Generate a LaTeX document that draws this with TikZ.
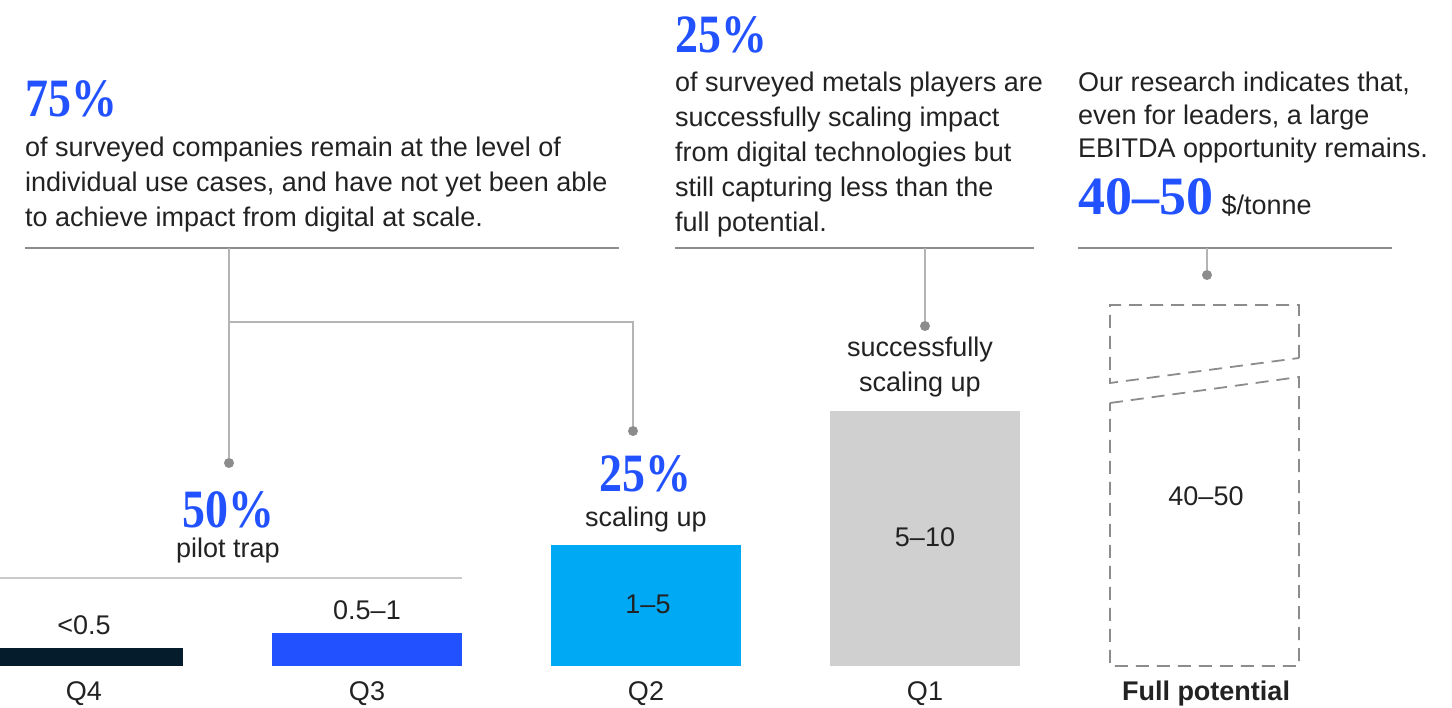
\documentclass[tikz,border=0pt]{standalone}
\usepackage{fontspec}
\usepackage{graphicx}
\setmainfont{Liberation Sans}
\newfontfamily\headfont[Ligatures=TeX]{Liberation Serif}

\definecolor{mckblue}{HTML}{2251FF}
\definecolor{mckcyan}{HTML}{00A9F4}
\definecolor{mcknavy}{HTML}{051C2C}
\definecolor{bargray}{HTML}{D0D0D0}
\definecolor{rulegray}{HTML}{8C8C8C}
\definecolor{linkgray}{HTML}{B4B4B4}
\definecolor{inkgray}{HTML}{222222}

\newcommand{\narrowed}[1]{\scalebox{0.85}[1]{#1}}

\tikzset{
  body/.style={inner sep=0pt, text=inkgray, font=\fontsize{27}{35}\selectfont},
  bignum/.style={inner sep=0pt, text=mckblue, font=\headfont\bfseries\fontsize{54}{54}\selectfont},
  bar/.style={inner sep=0pt, minimum width=190pt, anchor=south west},
  rule/.style={rulegray, line width=1.3pt},
  link/.style={linkgray, line width=1.6pt},
  pindot/.style={circle, fill=rulegray, inner sep=0pt, minimum size=10pt},
  potential/.style={rulegray, line width=1.8pt, dash pattern=on 13pt off 8pt},
}

\begin{document}
\begin{tikzpicture}[x=1pt,y=-1pt]
\useasboundingbox (0,0) rectangle (1452,708);
% Headline blocks above the rules
\node[bignum, anchor=base west] (lnum) at (25,117) {\narrowed{75\%}};
\node[body, anchor=base west, align=left] (ltext) at (25,227)
  {of surveyed companies remain at the level of\\individual use cases, and have not yet been able\\to achieve impact from digital at scale.};
\node[bignum, anchor=base west] (mnum) at (675,53) {\narrowed{25\%}};
\node[body, anchor=base west, align=left] (mtext) at (675,232)
  {of surveyed metals players are\\successfully scaling impact\\from digital technologies but\\still capturing less than the\\full potential.};
\node[body, anchor=base west, align=left, font=\fontsize{27}{33}\selectfont] (rtext) at (1078,158)
  {Our research indicates that,\\even for leaders, a large\\EBITDA opportunity remains.};
\node[bignum, anchor=base west] (rnum) at (1078,215) {40\textendash 50};
\node[body, anchor=base west] (runit) at ([xshift=8pt]rnum.base east) {\$/tonne};
% Rules
\draw[rule] (25,248) -- (619,248);
\draw[rule] (675,248) -- (1034,248);
\draw[rule] (1078,248) -- (1392,248);
\draw[linkgray!70, line width=1.3pt] (0,578) -- (462,578);
% Bars
\node[bar, fill=mcknavy, minimum width=183pt, minimum height=18pt] (q4bar) at (0,666) {};
\node[bar, fill=mckblue, minimum height=33pt] (q3bar) at (272,666) {};
\node[bar, fill=mckcyan, minimum height=121pt] (q2bar) at (551,666) {};
\node[bar, fill=bargray, minimum height=255pt] (q1bar) at (830,666) {};
% Dashed full potential box, broken by the slanted cut
\draw[potential] (1299,358) -- (1299,305) -- (1110,305) -- (1110,383) -- cycle;
\draw[potential] (1110,403) -- (1299,377) -- (1299,666) -- (1110,666) -- cycle;
% Bar values
\node[body, anchor=base] (q4val) at (84,634) {<0.5};
\node[body, anchor=base] (q3val) at (367,619) {0.5--1};
\node[body, anchor=base] (q2val) at (648,613) {1--5};
\node[body, anchor=base] (q1val) at (925,547) {5--10};
\node[body, anchor=base] (fpval) at (1206,505) {40--50};
% Quartile labels
\node[body, anchor=base] (q4lab) at (84,700) {Q4};
\node[body, anchor=base] (q3lab) at (367,700) {Q3};
\node[body, anchor=base] (q2lab) at (646,700) {Q2};
\node[body, anchor=base] (q1lab) at (925,700) {Q1};
\node[body, anchor=base, font=\bfseries\fontsize{27}{35}\selectfont] (fplab) at (1206,700) {Full potential};
% Group labels
\node[bignum, anchor=base] (ptnum) at (228,527) {\narrowed{50\%}};
\node[body, anchor=base] (pttext) at (228,558) {pilot trap};
\node[bignum, anchor=base] (sunum) at (645,492) {\narrowed{25\%}};
\node[body, anchor=base] (sutext) at (646,526) {scaling up};
\node[body, anchor=base, align=center] (sstext) at (920,392) {successfully\\scaling up};
% Connectors from the rules down to the groups
\node[pindot] (ptdot) at (229,463) {};
\node[pindot] (sudot) at (633,431) {};
\node[pindot] (ssdot) at (925,326) {};
\node[pindot] (fpdot) at (1207,275) {};
\coordinate (lfork) at (229,248);
\coordinate (lbranch) at (229,322);
\coordinate (mfork) at (925,248);
\coordinate (rfork) at (1207,248);
\draw[link] (lfork) -- (ptdot);
\draw[link] (lbranch) -| (sudot);
\draw[link] (mfork) -- (ssdot);
\draw[link] (rfork) -- (fpdot);
\end{tikzpicture}
\end{document}
